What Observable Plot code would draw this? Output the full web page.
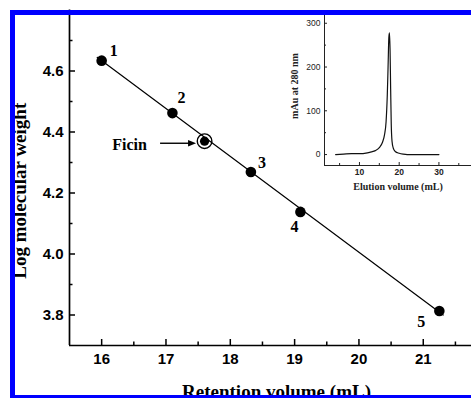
<!DOCTYPE html>
<html><head><meta charset="utf-8">
<script src="https://cdn.jsdelivr.net/npm/d3@7"></script>
<script src="https://cdn.jsdelivr.net/npm/@observablehq/plot@0.6"></script>
<style>
html,body{margin:0;padding:0;background:#fff;overflow:hidden;}
#wrap{position:relative;width:471px;height:398px;overflow:hidden;background:#fff;}
#wrap svg{position:absolute;left:0;top:0;}
#frame{position:absolute;left:10px;top:10px;width:520px;height:380px;border:5px solid #0000ff;pointer-events:none;}
</style></head><body>
<div id="wrap"></div>
<script>
// ---- main chart data ----
const standardIds = ["1", "2", "3", "4", "5"];
const retentionVolume = [16.0, 17.1, 18.32, 19.09, 21.25];
const logMW = [4.634, 4.462, 4.269, 4.138, 3.813];
const ficinName = ["Ficin"];
const ficinVolume = [17.6];
const ficinLogMW = [4.37];
const fitVolume = [15.93, 21.31];
const fitLogMW = [4.645, 3.80];
const xMajorTicks = [16, 17, 18, 19, 20, 21];
const xMinorTicks = [16.5, 17.5, 18.5, 19.5, 20.5, 21.5];
const yMajorTicks = [3.8, 4.0, 4.2, 4.4, 4.6];
const yMinorTicks = [3.9, 4.1, 4.3, 4.5, 4.7];
// ---- inset chromatogram data ----
const elutionVolume = [4, 6, 8, 10, 12, 13, 14, 15, 15.8, 16.3, 16.7, 17.0, 17.2, 17.4, 17.55, 17.7, 17.85, 18.0, 18.2, 18.5, 19, 20, 21, 22, 25, 30];
const absorbance280 = [0, 1, 2, 2, 4, 6, 9, 16, 28, 45, 75, 135, 200, 268, 278, 240, 150, 70, 30, 15, 7, 3, 1, 0, 0, 0];
const insetXMajor = [10, 20, 30];
const insetXMinor = [5, 15, 25, 35];
const insetYMajor = [0, 100, 200, 300];
const insetYMinor = [50, 150, 250];

const W = 471, H = 398;
const serif = "'Liberation Serif', 'Times New Roman', serif";
const sans = "'Liberation Sans', Arial, sans-serif";

const standards = standardIds.map((id, i) => ({id, v: retentionVolume[i], mw: logMW[i]}));
const ficin = ficinName.map((n, i) => ({n, v: ficinVolume[i], mw: ficinLogMW[i]}));
const fit = fitVolume.map((v, i) => ({v, mw: fitLogMW[i]}));

const mL = 69, mT = 9.5, mB = 53, mR = 0;
const fw = W - mL - mR, fh = H - mT - mB;

const labelOffsets = {"1": [12, -10], "2": [9, -15], "3": [11, -9], "4": [-6, 15], "5": [-18, 11]};
const labelMarks = standards.map(s => Plot.text([s], {
  x: "v", y: "mw", text: "id", dx: labelOffsets[s.id][0], dy: labelOffsets[s.id][1],
  fontSize: 16, fontWeight: "bold", fontFamily: serif, fill: "#000"
}));

function ficinArrow(index, scales) {
  const px = scales.x(ficinVolume[0]), py = scales.y(ficinLogMW[0]);
  const g = d3.create("svg:g");
  const y0 = py + 2.6, xEnd = px - 8, xStart = px - 44;
  g.append("line").attr("x1", xStart).attr("x2", xEnd - 6).attr("y1", y0).attr("y2", y0)
    .attr("stroke", "#000").attr("stroke-width", 1.4);
  g.append("path").attr("d", `M${xEnd},${y0}l-8,-3.2v6.4z`).attr("fill", "#000");
  return g.node();
}

const main = Plot.plot({
  width: W, height: H,
  marginLeft: mL, marginRight: mR, marginTop: mT, marginBottom: mB,
  x: {domain: [15.5, 21.75], axis: null},
  y: {domain: [3.7, 4.8], axis: null},
  style: {background: "transparent", color: "#000"},
  marks: [
    Plot.ruleX([15.5], {stroke: "#000", strokeWidth: 1.7}),
    Plot.ruleY([3.7], {stroke: "#000", strokeWidth: 1.7}),
    Plot.tickY(yMajorTicks, {y: d => d, insetRight: fw - 6, stroke: "#000", strokeWidth: 1.5}),
    Plot.tickY(yMinorTicks, {y: d => d, insetRight: fw - 3.5, stroke: "#000", strokeWidth: 1.5}),
    Plot.tickX(xMajorTicks, {x: d => d, insetTop: fh - 6, stroke: "#000", strokeWidth: 1.5}),
    Plot.tickX(xMinorTicks, {x: d => d, insetTop: fh - 3.5, stroke: "#000", strokeWidth: 1.5}),
    Plot.text(yMajorTicks, {y: d => d, text: d => d.toFixed(1), frameAnchor: "left", textAnchor: "end", lineAnchor: "middle", dx: -6, fontSize: 15, fontWeight: "bold", fontFamily: sans, fill: "#000"}),
    Plot.text(xMajorTicks, {x: d => d, text: d => String(d), frameAnchor: "bottom", textAnchor: "middle", lineAnchor: "top", dy: 8, fontSize: 15, fontWeight: "bold", fontFamily: sans, fill: "#000"}),
    Plot.text(["Log molecular weight"], {frameAnchor: "left", textAnchor: "middle", lineAnchor: "middle", rotate: -90, dx: -49.5, dy: 13, fontSize: 19, fontWeight: "bold", fontFamily: serif, fill: "#000"}),
    Plot.text(["Retention volume (mL)"], {frameAnchor: "bottom", textAnchor: "middle", lineAnchor: "middle", dx: 6, dy: 46, fontSize: 19, fontWeight: "bold", fontFamily: serif, fill: "#000"}),
    Plot.line(fit, {x: "v", y: "mw", stroke: "#000", strokeWidth: 1.2}),
    Plot.dot(standards, {x: "v", y: "mw", r: 5.3, fill: "#000"}),
    Plot.dot(ficin, {x: "v", y: "mw", r: 4.6, fill: "#000"}),
    Plot.dot(ficin, {x: "v", y: "mw", r: 7.3, fill: "none", stroke: "#000", strokeWidth: 1.4}),
    ...labelMarks,
    Plot.text(ficin, {x: "v", y: "mw", text: "n", dx: -75, dy: 3.5, fontSize: 16, fontWeight: "bold", fontFamily: serif, fill: "#000"}),
    ficinArrow
  ]
});

// inset
const iL = 324, iT = 14, iB = 233, iR = 0;
const ifw = W - iL - iR, ifh = H - iT - iB;
const chrom = elutionVolume.map((v, i) => ({v, a: absorbance280[i]}));
const inset = Plot.plot({
  width: W, height: H,
  marginLeft: iL, marginRight: iR, marginTop: iT, marginBottom: iB,
  x: {domain: [1.2, 38.2], axis: null},
  y: {domain: [-25, 320], axis: null},
  style: {background: "transparent", color: "#222"},
  marks: [
    Plot.ruleX([1.2], {stroke: "#222", strokeWidth: 1}),
    Plot.ruleY([-25], {stroke: "#222", strokeWidth: 1}),
    Plot.tickY(insetYMajor, {y: d => d, insetRight: ifw - 3, stroke: "#222"}),
    Plot.tickY(insetYMinor, {y: d => d, insetRight: ifw - 2, stroke: "#222"}),
    Plot.tickX(insetXMajor, {x: d => d, insetTop: ifh - 3, stroke: "#222"}),
    Plot.tickX(insetXMinor, {x: d => d, insetTop: ifh - 2, stroke: "#222"}),
    Plot.text(insetYMajor, {y: d => d, text: d => String(d), frameAnchor: "left", textAnchor: "end", lineAnchor: "middle", dx: -4, fontSize: 8.5, fontFamily: sans, fill: "#222"}),
    Plot.text(insetXMajor, {x: d => d, text: d => String(d), frameAnchor: "bottom", textAnchor: "middle", lineAnchor: "top", dy: 3, fontSize: 8.5, fontWeight: "bold", fontFamily: sans, fill: "#222"}),
    Plot.text(["mAu at 280 nm"], {frameAnchor: "left", textAnchor: "middle", lineAnchor: "middle", rotate: -90, dx: -30, dy: -4, fontSize: 10, fontWeight: "bold", fontFamily: serif, fill: "#222"}),
    Plot.text(["Elution volume (mL)"], {frameAnchor: "bottom", textAnchor: "middle", lineAnchor: "middle", dx: 0, dy: 21, fontSize: 10, fontWeight: "bold", fontFamily: serif, fill: "#222"}),
    Plot.line(chrom, {x: "v", y: "a", stroke: "#111", strokeWidth: 1.2, curve: "monotone-x"})
  ]
});

const wrap = document.getElementById("wrap");
wrap.appendChild(main);
wrap.appendChild(inset);
const frame = document.createElement("div");
frame.id = "frame";
wrap.appendChild(frame);
</script>
</body></html>
